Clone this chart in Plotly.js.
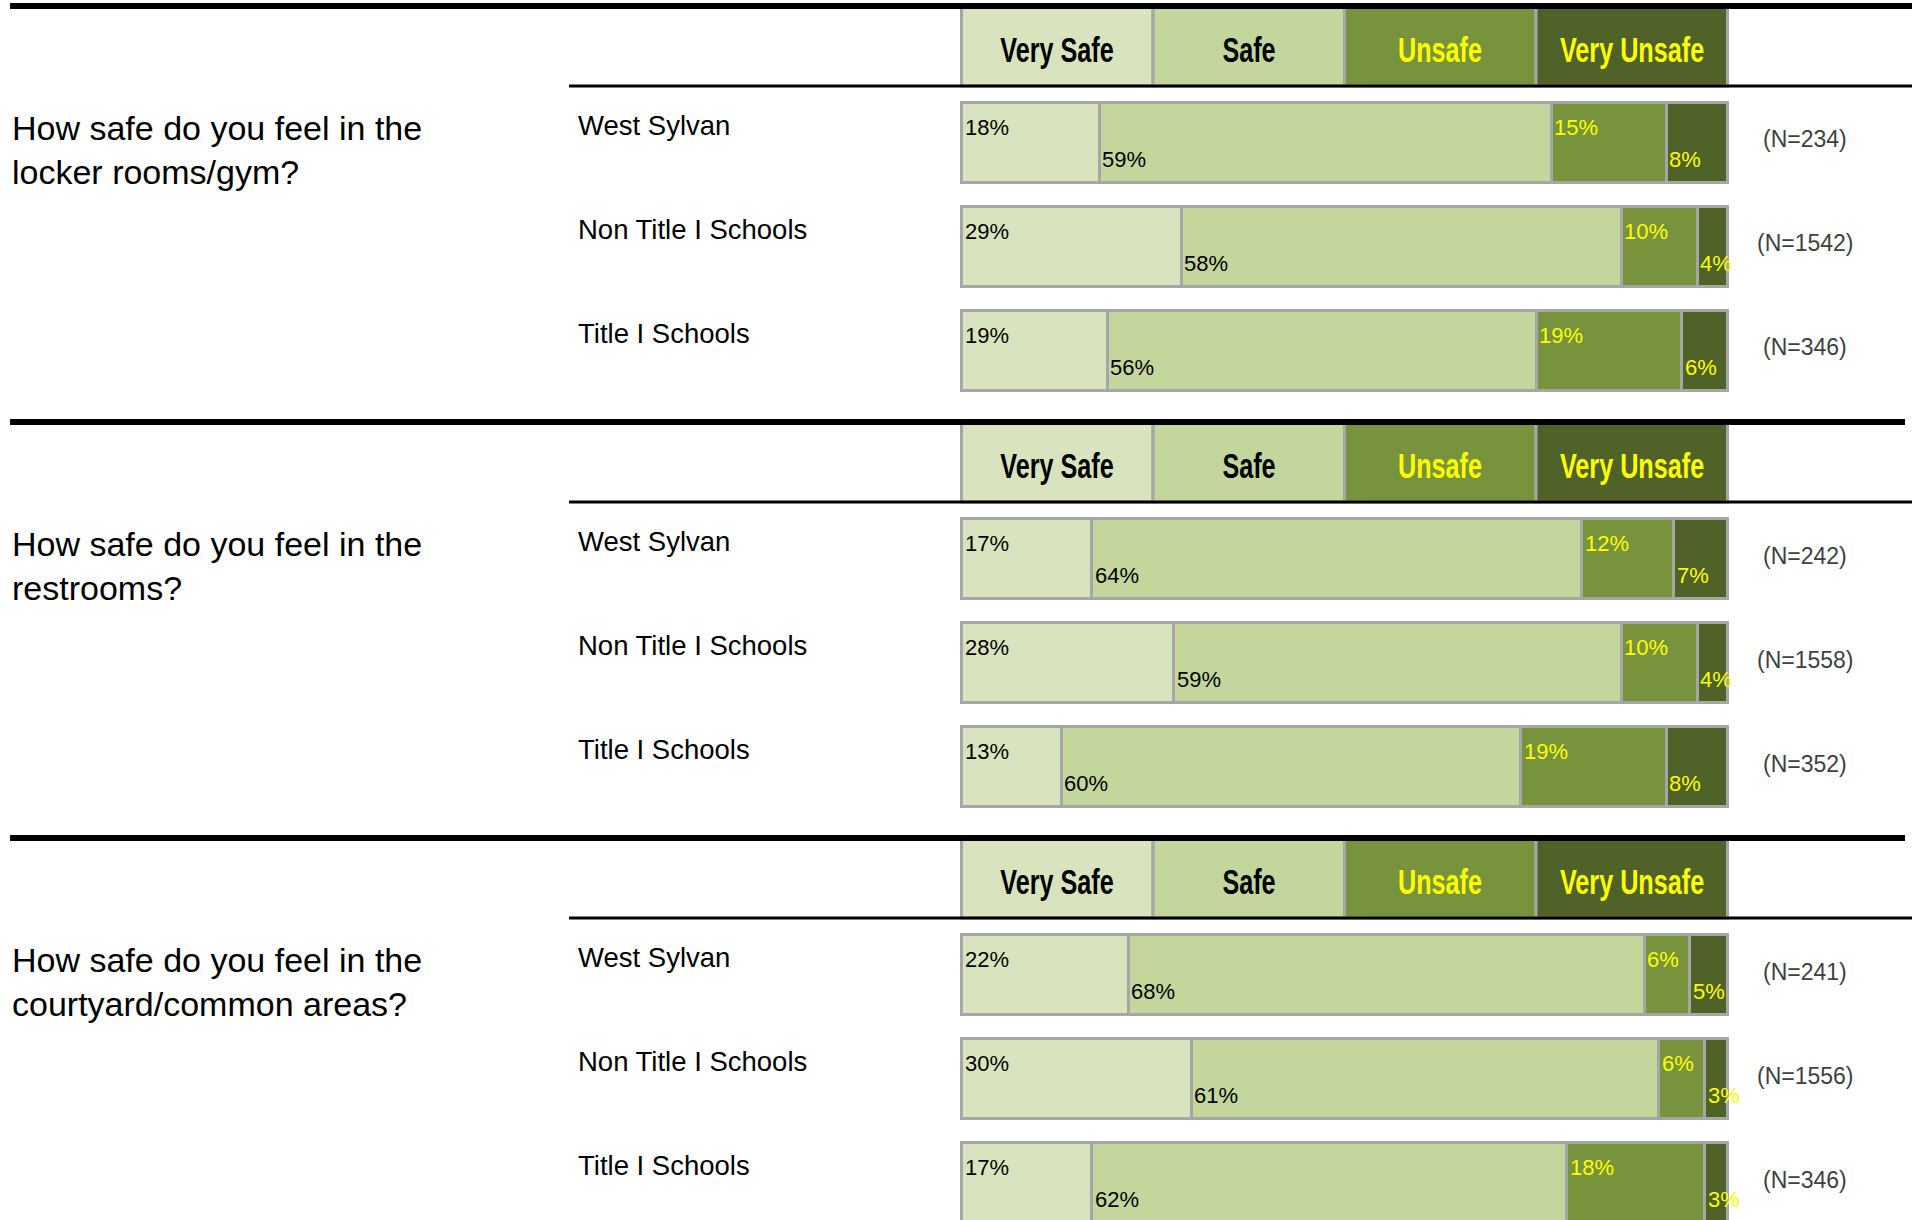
<!DOCTYPE html>
<html>
<head>
<meta charset="utf-8">
<script src="https://cdn.plot.ly/plotly-3.0.1.min.js"></script>
<style>
  html, body { margin: 0; padding: 0; background: #ffffff; }
  #chart { width: 1916px; height: 1220px; }
</style>
</head>
<body>
<div id="chart"></div>
<script>
// ---------------- DATA ----------------
const categories = ["West Sylvan", "Non Title I Schools", "Title I Schools"];
const levels = ["Very Safe", "Safe", "Unsafe", "Very Unsafe"];
const questions = [
  "How safe do you feel in the<br>locker rooms/gym?",
  "How safe do you feel in the<br>restrooms?",
  "How safe do you feel in the<br>courtyard/common areas?"
];

const lockerVerySafe   = [18, 29, 19];
const lockerSafe       = [59, 58, 56];
const lockerUnsafe     = [15, 10, 19];
const lockerVeryUnsafe = [8, 4, 6];
const lockerN          = [234, 1542, 346];

const restroomVerySafe   = [17, 28, 13];
const restroomSafe       = [64, 59, 60];
const restroomUnsafe     = [12, 10, 19];
const restroomVeryUnsafe = [7, 4, 8];
const restroomN          = [242, 1558, 352];

const courtyardVerySafe   = [22, 30, 17];
const courtyardSafe       = [68, 61, 62];
const courtyardUnsafe     = [6, 6, 18];
const courtyardVeryUnsafe = [5, 3, 3];
const courtyardN          = [241, 1556, 346];

const sectionValues = [
  [lockerVerySafe, lockerSafe, lockerUnsafe, lockerVeryUnsafe],
  [restroomVerySafe, restroomSafe, restroomUnsafe, restroomVeryUnsafe],
  [courtyardVerySafe, courtyardSafe, courtyardUnsafe, courtyardVeryUnsafe]
];
const sectionN = [lockerN, restroomN, courtyardN];

// ---------------- STYLE / LAYOUT CONSTANTS ----------------
const W = 1916, H = 1220;
const FONT = "Liberation Sans, Arial, sans-serif";
const LEVEL_COLORS = ["#d7e4bd", "#c3d69b", "#77933c", "#4f6228"];
const TEXT_COLORS = ["#000000", "#000000", "#ffff00", "#ffff00"];
const BORDER = "#a6a6a6";
const SEC = 416;          // vertical distance between sections (px)
const BAR_C0 = 142.5;     // first bar centre (px)
const ROW_STEP = 104;     // distance between bars (px)
const BAR_H = 80;         // bar thickness (px)
const PX_L = 961.5, PX_R = 1727.5; // pixel position of 0% and 100%
const XPAD = 0.5;
const K = (PX_R - PX_L) / 100;
const HEAD_SCALE = 0.7;

const py = p => 1 - p / H;   // pixel-from-top -> paper y
const px = p => p / W;       // pixel-from-left -> paper x

const traces = [];
const annotations = [];
const shapes = [];
const headerIdx = [];

const layout = {
  width: W, height: H,
  margin: {l: 0, r: 0, t: 0, b: 0, pad: 0},
  paper_bgcolor: "#ffffff",
  plot_bgcolor: "rgba(0,0,0,0)",
  barmode: "stack",
  bargap: 1 - BAR_H / ROW_STEP,
  showlegend: false,
  xaxis: {
    range: [-XPAD, 100 + XPAD],
    domain: [px(PX_L - XPAD * K), px(PX_R + XPAD * K)],
    visible: false, fixedrange: true
  }
};

sectionValues.forEach((vals, s) => {
  const yId = s === 0 ? "y" : "y" + (s + 1);
  const axName = s === 0 ? "yaxis" : "yaxis" + (s + 1);
  const top = BAR_C0 + s * SEC - ROW_STEP * 0.5;
  let bottom = top + ROW_STEP * 3;
  let rEnd = 2.5;
  if (bottom > H) { rEnd = -0.5 + (H - top) / ROW_STEP; bottom = H; }
  layout[axName] = {
    type: "category", categoryorder: "array", categoryarray: categories,
    range: [rEnd, -0.5], domain: [py(bottom), py(top)],
    visible: false, anchor: "x", fixedrange: true
  };

  const sums = categories.map((c, i) => vals.reduce((a, v) => a + v[i], 0));
  const cum = categories.map(() => 0);
  vals.forEach((v, l) => {
    const xs = v.map((val, i) => val / sums[i] * 100);
    traces.push({
      type: "bar", orientation: "h", name: levels[l],
      y: categories, x: xs, xaxis: "x", yaxis: yId,
      marker: {color: LEVEL_COLORS[l], line: {color: BORDER, width: 3}},
      hoverinfo: "skip"
    });
    v.forEach((val, i) => {
      annotations.push({
        xref: "x", yref: yId, x: cum[i], y: categories[i],
        text: val + "%", showarrow: false,
        xanchor: "left", yanchor: "middle",
        xshift: 1, yshift: (l % 2 === 0) ? 15 : -17,
        font: {family: FONT, size: 22, color: TEXT_COLORS[l]}
      });
      cum[i] += xs[i];
    });
  });

  // row labels and N labels
  categories.forEach((c, i) => {
    annotations.push({
      xref: "paper", yref: yId, x: px(576), y: c, text: c, showarrow: false,
      xanchor: "left", yanchor: "middle", yshift: 17,
      font: {family: FONT, size: 27.5, color: "#000000"}
    });
    annotations.push({
      xref: "paper", yref: yId, x: px(1805), y: c, text: "(N=" + sectionN[s][i] + ")",
      showarrow: false, xanchor: "center", yanchor: "middle", yshift: 3,
      font: {family: FONT, size: 23, color: "#404040"}
    });
  });

  // question text
  annotations.push({
    xref: "paper", yref: "paper", x: px(10), y: py(150 + s * SEC),
    text: questions[s], showarrow: false, xanchor: "left", yanchor: "middle", align: "left",
    font: {family: FONT, size: 34, color: "#000000"}
  });

  // header boxes (legend)
  levels.forEach((lv, l) => {
    shapes.push({
      type: "rect", xref: "x", yref: "paper",
      x0: l * 25, x1: (l + 1) * 25, y0: py(86 + s * SEC), y1: py(7 + s * SEC),
      fillcolor: LEVEL_COLORS[l], line: {color: BORDER, width: 3}, layer: "below"
    });
    headerIdx.push(annotations.length);
    annotations.push({
      xref: "x", yref: "paper", x: l * 25 + 12.5, y: py(49.5 + s * SEC),
      text: lv, showarrow: false, xanchor: "center", yanchor: "middle",
      font: {family: FONT, size: 36, weight: "bold", color: TEXT_COLORS[l]}
    });
  });

  // section rules
  shapes.push({
    type: "line", xref: "paper", yref: "paper",
    x0: px(10), x1: px(s === 0 ? 1912 : 1905), y0: py(6 + s * SEC), y1: py(6 + s * SEC),
    line: {color: "#000000", width: 6}, layer: "above"
  });
  shapes.push({
    type: "line", xref: "paper", yref: "paper",
    x0: px(569), x1: px(1912), y0: py(86 + s * SEC), y1: py(86 + s * SEC),
    line: {color: "#000000", width: 3}, layer: "above"
  });
});

layout.annotations = annotations;
layout.shapes = shapes;

Plotly.newPlot("chart", traces, layout, {displayModeBar: false, staticPlot: true}).then(gd => {
  // condensed look of the header labels
  headerIdx.forEach(k => {
    const t = gd.querySelector('.annotation[data-index="' + k + '"] text');
    if (t) {
      t.style.transformBox = "fill-box";
      t.style.transformOrigin = "center";
      t.style.transform = "scaleX(" + HEAD_SCALE + ")";
    }
  });
});
</script>
</body>
</html>
